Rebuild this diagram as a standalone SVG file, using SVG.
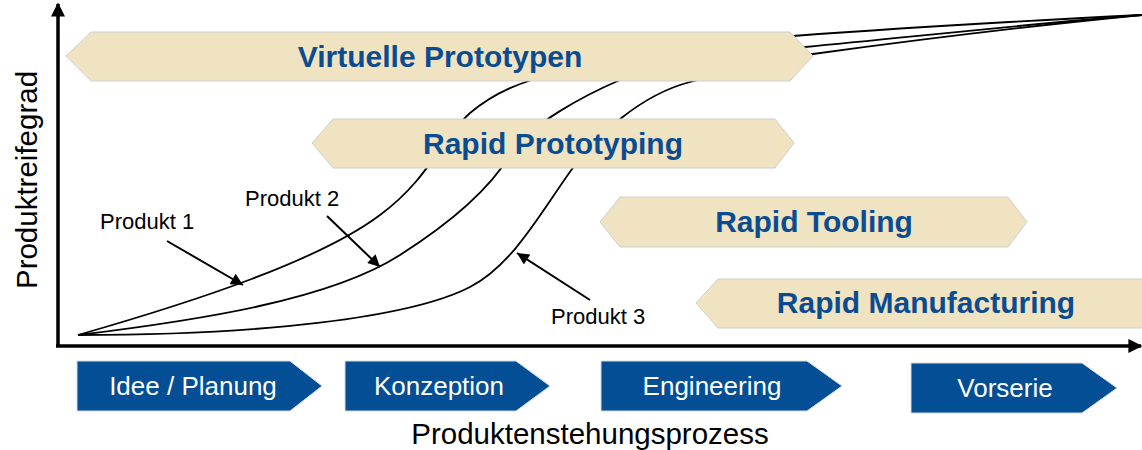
<svg xmlns="http://www.w3.org/2000/svg" width="1142" height="450" viewBox="0 0 1142 450">
  <defs>
    <marker id="ah" viewBox="0 0 10 10" refX="10" refY="5" markerWidth="14" markerHeight="12" markerUnits="userSpaceOnUse" orient="auto">
      <path d="M0,0 L10,5 L0,10 z" fill="#000"/>
    </marker>
    <marker id="axh" viewBox="0 0 10 10" refX="9" refY="5" markerWidth="16" markerHeight="14" markerUnits="userSpaceOnUse" orient="auto">
      <path d="M0,0 L10,5 L0,10 z" fill="#000"/>
    </marker>
    <style>
      .banner { fill: #EFE3C2; stroke: #CFCFCF; stroke-width: 1; }
      .btxt { font-family: "Liberation Sans", Arial, sans-serif; font-weight: bold; font-size: 30px; fill: #0B4C91; text-anchor: middle; }
      .phase { fill: #034E94; stroke: #D8D8D8; stroke-width: 1; }
      .ptxt { font-family: "Liberation Sans", Arial, sans-serif; font-size: 26px; fill: #FFFFFF; text-anchor: middle; }
      .curve { fill: none; stroke: #000; stroke-width: 1.8; }
      .lbl { font-family: "Liberation Sans", Arial, sans-serif; font-size: 22px; fill: #000; }
      .axis { fill: none; stroke: #000; stroke-width: 3.5; }
      .axtxt { font-family: "Liberation Sans", Arial, sans-serif; font-size: 29.5px; fill: #000; text-anchor: middle; }
      .ptr { stroke: #000; stroke-width: 2; fill: none; }
    </style>
  </defs>
  <rect width="1142" height="450" fill="#FFFFFF"/>

  <g id="curves">
    <path id="curve1" class="curve" d="M78,335 C200,300 320,260 380,215 C430,178 440,140 470,113 C495,92 520,82 560,72 C650,55 720,42 793,36 C900,28 1040,20 1142,15"/>
    <path id="curve2" class="curve" d="M78,335 C200,320 330,300 400,255 C455,220 492,185 510,155 C528,125 585,95 620,80 C655,65 740,52 805,47 C920,36 1050,22 1142,15"/>
    <path id="curve3" class="curve" d="M78,335 C260,335 410,318 470,287 C515,264 545,205 575,165 C597,136 640,95 690,82 C730,72 780,60 813,54 C930,38 1050,24 1142,15"/>
  </g>

  <g id="virtuelle-prototypen">
    <polygon class="banner" points="66,56 91,32 790,32 813,56 790,81 91,81"/>
    <text class="btxt" x="440" y="67">Virtuelle Prototypen</text>
  </g>
  <g id="rapid-prototyping">
    <polygon class="banner" points="312,143 333,119 775,119 794,143 775,168 333,168"/>
    <text class="btxt" x="553" y="154">Rapid Prototyping</text>
  </g>
  <g id="rapid-tooling">
    <polygon class="banner" points="600,222 620,197 1008,197 1027,222 1008,247 620,247"/>
    <text class="btxt" x="814" y="232">Rapid Tooling</text>
  </g>
  <g id="rapid-manufacturing">
    <polygon class="banner" points="696,303 718,279 1160,279 1160,328 718,328"/>
    <text class="btxt" x="926" y="313">Rapid Manufacturing</text>
  </g>

  <g id="axes">
    <line class="axis" x1="58" y1="347" x2="58" y2="4" marker-end="url(#axh)"/>
    <line class="axis" x1="56" y1="346" x2="1141" y2="346" marker-end="url(#axh)"/>
    <text class="axtxt" transform="translate(37,180) rotate(-90)">Produktreifegrad</text>
    <text class="axtxt" x="590" y="444">Produktenstehungsprozess</text>
  </g>

  <g id="phase-idee">
    <polygon class="phase" points="77,361 290,361 322,386 290,411 77,411"/>
    <text class="ptxt" x="193" y="395">Idee / Planung</text>
  </g>
  <g id="phase-konzeption">
    <polygon class="phase" points="345,361 516,361 550,386 516,411 345,411"/>
    <text class="ptxt" x="439" y="395">Konzeption</text>
  </g>
  <g id="phase-engineering">
    <polygon class="phase" points="601,361 807,361 842,386 807,411 601,411"/>
    <text class="ptxt" x="712" y="395">Engineering</text>
  </g>
  <g id="phase-vorserie">
    <polygon class="phase" points="911,363 1082,363 1117,388 1082,413 911,413"/>
    <text class="ptxt" x="1005" y="397">Vorserie</text>
  </g>

  <g id="label-produkt1">
    <text class="lbl" x="100" y="229">Produkt 1</text>
  </g>
  <g id="label-produkt2">
    <text class="lbl" x="245" y="206">Produkt 2</text>
  </g>
  <g id="label-produkt3">
    <text class="lbl" x="551" y="324">Produkt 3</text>
  </g>

  <g id="connectors">
    <line class="ptr" x1="167" y1="241" x2="243" y2="285" marker-end="url(#ah)"/>
    <line class="ptr" x1="327" y1="216" x2="380" y2="267" marker-end="url(#ah)"/>
    <line class="ptr" x1="590" y1="300" x2="517" y2="253" marker-end="url(#ah)"/>
  </g>
</svg>
